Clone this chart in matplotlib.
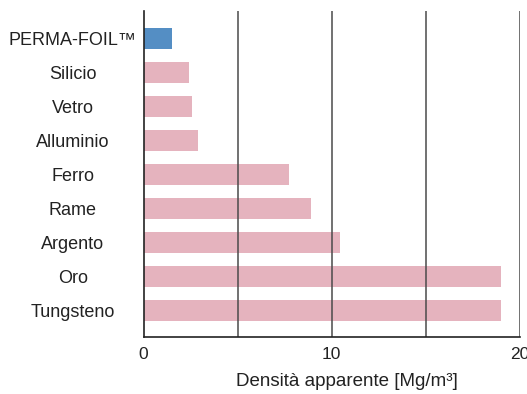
import matplotlib.pyplot as plt

materials = ["PERMA-FOIL™", "Silicio", "Vetro", "Alluminio", "Ferro",
             "Rame", "Argento", "Oro", "Tungsteno"]
density = [1.5, 2.4, 2.6, 2.9, 7.75, 8.9, 10.45, 19.0, 19.0]
bar_colors = ["#548EC4"] + ["#E5B3BE"] * 8
grid_x = [5, 10, 15, 20]
xticks = [0, 10, 20]

plt.rcParams['font.family'] = ['Liberation Sans', 'DejaVu Sans']

fig = plt.figure(figsize=(5.27, 3.94), dpi=100)
ax = fig.add_axes([0.2723, 0.1447, 0.7135, 0.8273])

ypos = list(range(len(materials)))
ax.barh(ypos, density, height=0.63, color=bar_colors, zorder=2)
for gx in grid_x:
    ax.axvline(gx, color="#4a4a4a", lw=1.1, zorder=3)

ax.set_xlim(0, 20)
ax.set_ylim(len(materials) - 1 + 0.78, -0.81)

ax.set_yticks(ypos)
ax.set_yticklabels(materials, fontsize=13, color="#222222")
for lbl in ax.get_yticklabels():
    lbl.set_horizontalalignment('center')
ax.tick_params(axis='y', length=0, pad=51)

ax.set_xticks(xticks)
ax.set_xticklabels([str(t) for t in xticks], fontsize=12.5, color="#222222")
ax.tick_params(axis='x', length=0, pad=7)
ax.set_xlabel("Densità apparente [Mg/m³]", fontsize=13.5, color="#222222")
ax.xaxis.set_label_coords(0.541, -0.112)

for side in ['top', 'right']:
    ax.spines[side].set_visible(False)
for side in ['left', 'bottom']:
    ax.spines[side].set_linewidth(1.2)
    ax.spines[side].set_color("#222222")
    ax.spines[side].set_zorder(4)

fig.savefig("out.png", dpi=100)
